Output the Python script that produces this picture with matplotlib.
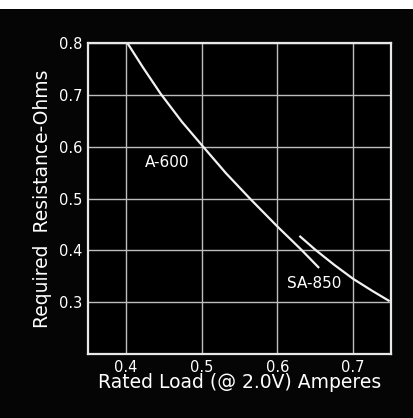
import matplotlib.pyplot as plt
from matplotlib.patches import Rectangle

# curves
a600_x = [0.402, 0.423, 0.446, 0.474, 0.502, 0.532, 0.565, 0.600, 0.631, 0.655]
a600_y = [0.800, 0.752, 0.702, 0.648, 0.600, 0.549, 0.498, 0.446, 0.402, 0.366]
sa850_x = [0.629, 0.651, 0.675, 0.700, 0.725, 0.748]
sa850_y = [0.428, 0.400, 0.372, 0.345, 0.322, 0.302]

xticks = [0.4, 0.5, 0.6, 0.7]
yticks = [0.3, 0.4, 0.5, 0.6, 0.7, 0.8]

fg = 'white'
fig = plt.figure(figsize=(4.13, 4.18), dpi=100, facecolor='#050505')
fig.patches.append(Rectangle((0, 0.978), 1, 0.022, transform=fig.transFigure,
                             facecolor='white', edgecolor='none'))
ax = fig.add_axes([0.213, 0.153, 0.734, 0.744])
ax.set_facecolor('black')

ax.plot(a600_x, a600_y, color='#f2f2f2', lw=1.6, solid_capstyle='butt')
ax.plot(sa850_x, sa850_y, color='#f2f2f2', lw=1.6, solid_capstyle='butt')

ax.set_xlim(0.35, 0.75)
ax.set_ylim(0.2, 0.8)
ax.set_xticks(xticks)
ax.set_yticks(yticks)
ax.set_xticklabels([str(v) for v in xticks])
ax.set_yticklabels([str(v) for v in yticks])
ax.tick_params(length=0, colors=fg, labelsize=10.5, pad=4)
ax.grid(True, color='#bdbdbd', lw=1.0)
for s in ax.spines.values():
    s.set_color('#e8e8e8')
    s.set_linewidth(1.6)

ax.text(0.455, 0.57, 'A-600', color=fg, fontsize=11, ha='center', va='center')
ax.text(0.648, 0.337, 'SA-850', color=fg, fontsize=11, ha='center', va='center')

ax.set_xlabel('Rated Load (@ 2.0V) Amperes', color=fg, fontsize=13.5, labelpad=-1)
ax.set_ylabel('Required  Resistance-Ohms', color=fg, fontsize=13.5, labelpad=5)

fig.savefig('out.png', dpi=100, facecolor=fig.get_facecolor())
